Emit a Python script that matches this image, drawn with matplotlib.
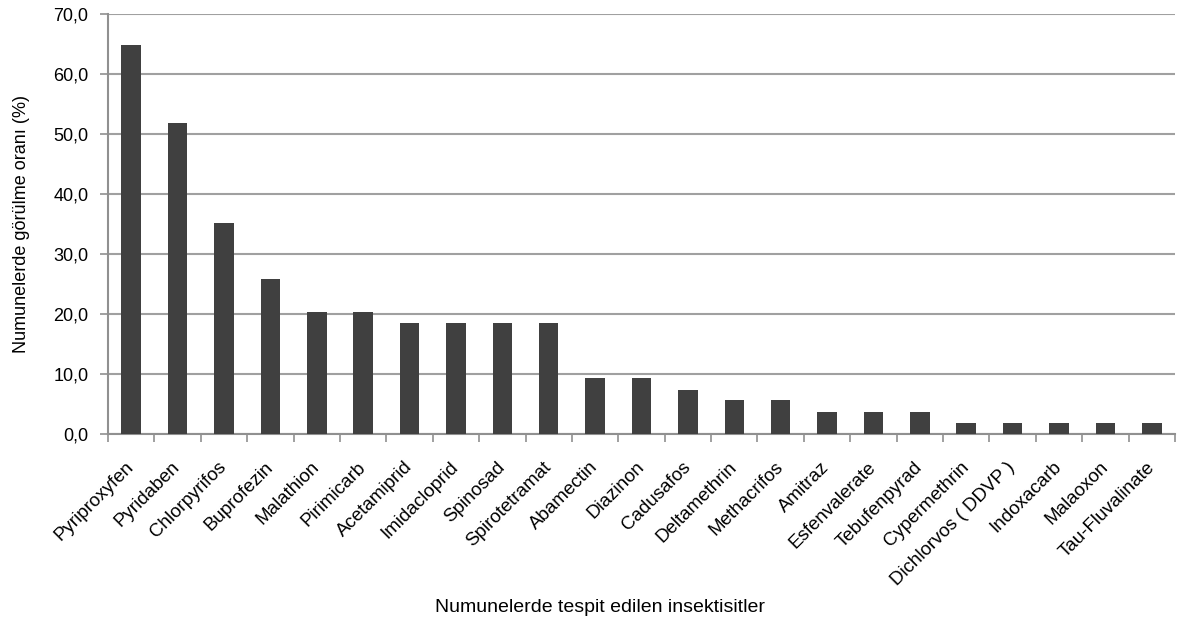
import matplotlib.pyplot as plt
from matplotlib.ticker import FuncFormatter, FixedLocator
import matplotlib.transforms as mtransforms
import numpy as np

plt.rcParams['font.family'] = ['Liberation Sans', 'DejaVu Sans']

insektisitler = ['Pyriproxyfen', 'Pyridaben', 'Chlorpyrifos', 'Buprofezin', 'Malathion',
                 'Pirimicarb', 'Acetamiprid', 'Imidacloprid', 'Spinosad', 'Spirotetramat',
                 'Abamectin', 'Diazinon', 'Cadusafos', 'Deltamethrin', 'Methacrifos',
                 'Amitraz', 'Esfenvalerate', 'Tebufenpyrad', 'Cypermethrin',
                 'Dichlorvos ( DDVP )', 'Indoxacarb', 'Malaoxon', 'Tau-Fluvalinate']
oran = [64.8, 51.9, 35.2, 25.9, 20.4, 20.4, 18.5, 18.5, 18.5, 18.5,
        9.3, 9.3, 7.4, 5.6, 5.6, 3.7, 3.7, 3.7, 1.9, 1.9, 1.9, 1.9, 1.9]

fig = plt.figure(figsize=(11.78, 6.23), dpi=100)
ax = fig.add_axes([108/1178, 1 - 434/623, (1175 - 108)/1178, 420/623])

x = np.arange(len(oran))
ax.bar(x, oran, width=0.42, color='#404040', zorder=3)

ax.set_xlim(-0.5, len(oran) - 0.5)
ax.set_ylim(0, 70)
ax.set_yticks(np.arange(0, 71, 10))
ax.yaxis.set_major_formatter(FuncFormatter(lambda v, p: f'{v:.1f}'.replace('.', ',')))
ax.grid(axis='y', color='#a0a0a0', linewidth=1.5, zorder=0)

# etiketler kategorilerin ortasinda, tik cizgileri aralarda
ax.set_xticks(x)
ax.set_xticklabels(insektisitler, rotation=45, ha='right', va='center',
                   rotation_mode='anchor', fontsize=13.5)
kaydir = mtransforms.ScaledTranslation(14/100, 0, fig.dpi_scale_trans)
for lbl in ax.get_xticklabels():
    lbl.set_transform(lbl.get_transform() + kaydir)
ax.xaxis.set_minor_locator(FixedLocator(np.arange(-0.5, len(oran), 1)))
ax.tick_params(axis='x', which='major', length=0, pad=22)
ax.tick_params(axis='x', which='minor', length=6, color='#909090', width=1.2)
ax.tick_params(axis='y', length=6, color='#909090', width=1.2, labelsize=13, pad=8)

for s in ['top', 'right']:
    ax.spines[s].set_visible(False)
for s in ['left', 'bottom']:
    ax.spines[s].set_color('#909090')
    ax.spines[s].set_linewidth(1.5)

ax.set_ylabel('Numunelerde görülme oranı (%)', fontsize=13, labelpad=17)
fig.text(600/1178, 1 - 607/623, 'Numunelerde tespit edilen insektisitler',
         ha='center', va='center', fontsize=14)

fig.savefig('out.png', dpi=100)
